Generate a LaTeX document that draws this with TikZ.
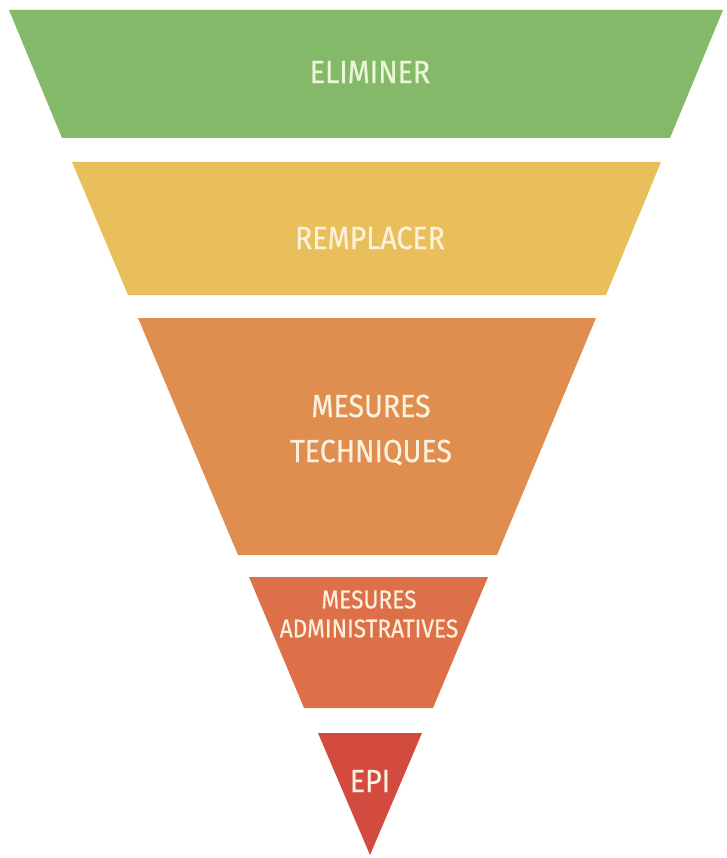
\documentclass[tikz,border=0pt]{standalone}
\usepackage{fontspec}
\setmainfont{Fira Sans}[FakeStretch=0.89,FakeBold=0.5]
\definecolor{cgreen}{HTML}{84B96A}
\definecolor{cyellow}{HTML}{E9BF5C}
\definecolor{corange}{HTML}{E08E50}
\definecolor{cadmin}{HTML}{DE7049}
\definecolor{cepi}{HTML}{D34B3F}
\definecolor{ctext}{HTML}{FBF1DC}
\definecolor{ctextg}{HTML}{EAF7D6}
\begin{document}
\begin{tikzpicture}[x=1pt,y=-1pt,
  lbl/.style={text=ctext,align=center,inner sep=0pt,font=\fontsize{32}{45}\selectfont},
  smalllbl/.style={text=ctext,align=center,inner sep=0pt,font=\fontsize{25.5}{29}\selectfont}]
\useasboundingbox[fill=white] (0,0) rectangle (726,858);
\fill[cgreen]  (9,10) -- (723,10) -- (670,138) -- (62,138) -- cycle;
\fill[cyellow] (72,162) -- (661,162) -- (606,295) -- (128,295) -- cycle;
\fill[corange] (138,318) -- (596,318) -- (497,555) -- (238,555) -- cycle;
\fill[cadmin]  (249,577) -- (488,577) -- (433,708) -- (304,708) -- cycle;
\fill[cepi]    (318,733) -- (422,733) -- (370,855) -- cycle;
\node[lbl,text=ctextg] (elim) at (370,72) {ELIMINER};
\node[lbl] (remp) at (370,238) {REMPLACER};
\node[lbl] (tech) at (371,430) {MESURES\\TECHNIQUES};
\node[smalllbl] (admin) at (369,614) {MESURES\\ADMINISTRATIVES};
\node[lbl] (epi) at (370,781) {EPI};
\end{tikzpicture}
\end{document}
